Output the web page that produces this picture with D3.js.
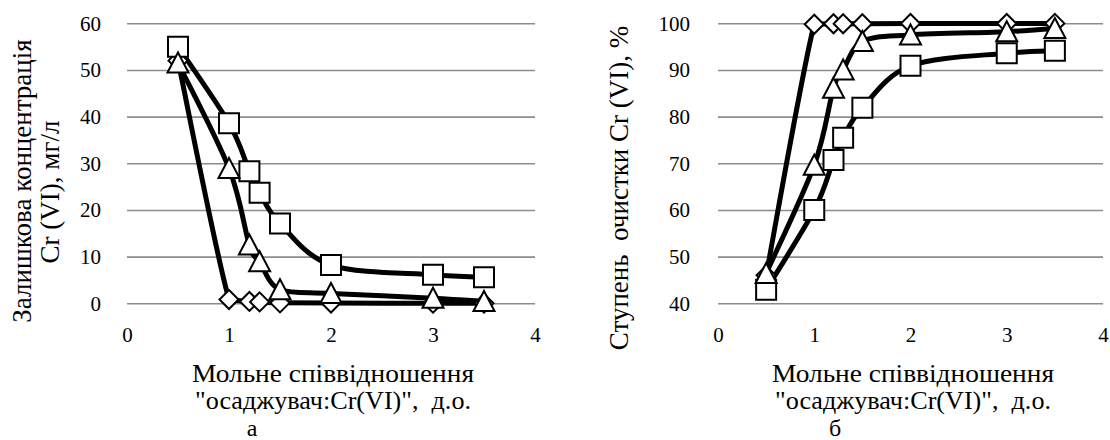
<!DOCTYPE html>
<html>
<head>
<meta charset="utf-8">
<script src="https://cdn.jsdelivr.net/npm/d3@7"></script>
<style>
  html, body { margin: 0; padding: 0; background: #fff; }
  svg { display: block; }
  text { font-family: "Liberation Serif", "Times New Roman", Tinos, serif; fill: #000; }
</style>
</head>
<body>
<svg id="chart" width="1110" height="440"></svg>
<script>
// ---- data ----
const ratio = [0.5, 1.0, 1.2, 1.3, 1.5, 2.0, 3.0, 3.5];

// (а) residual Cr(VI) concentration, mg/l
const concDiamond  = [52, 0.8, 0.4, 0.3, 0.1, 0.05, 0.03, 0.02];
const concTriangle = [51.5, 28.9, 12.5, 8.9, 2.9, 2.1, 1.1, 0.4];
const concSquare   = [55, 38.6, 28.3, 23.7, 17.1, 8.2, 6.1, 5.6];

// (б) purification degree, %
const purDiamond  = [46, 99.8, 99.9, 99.9, 99.9, 99.95, 99.97, 99.98];
const purTriangle = [46.4, 69.6, 86.1, 90.0, 96.1, 97.5, 98.2, 98.9];
const purSquare   = [42.9, 60.0, 70.7, 75.5, 81.9, 90.9, 93.6, 94.1];

const xTicks = [0, 1, 2, 3, 4];
const yTicksA = [0, 10, 20, 30, 40, 50, 60];
const yTicksB = [40, 50, 60, 70, 80, 90, 100];

const xTitle1 = "Мольне співвідношення";
const xTitle2 = "\"осаджувач:Cr(VI)\",\u00a0 д.о.";
const yTitleA1 = "Залишкова концентрація";
const yTitleA2 = "Cr (VI), мг/л";
const yTitleB = "Ступень\u00a0 очистки Cr (VI), %";
const panelA = "а";
const panelB = "б";

// ---- drawing ----
const FONT = "'Liberation Serif', 'Times New Roman', Tinos, serif";
const svg = d3.select("#chart");
svg.append("rect").attr("width", 1110).attr("height", 440).attr("fill", "#fff");

const markerPaths = {
  square: "M-10,-10H10V10H-10Z",
  triangle: "M0,-10.5L10.5,9.5L-10.5,9.5Z",
  diamond: "M0,-9.5L9.5,0L0,9.5L-9.5,0Z"
};

// Excel-like smoothed line: Catmull-Rom Bezier controls, clamped to each segment's box
function smoothPath(pts) {
  const p = d3.path();
  const n = pts.length;
  p.moveTo(pts[0][0], pts[0][1]);
  const clamp = (v, a, b) => Math.max(Math.min(a, b), Math.min(Math.max(a, b), v));
  for (let i = 0; i < n - 1; i++) {
    const P0 = pts[Math.max(i - 1, 0)], P1 = pts[i], P2 = pts[i + 1], P3 = pts[Math.min(i + 2, n - 1)];
    let c1x = P1[0] + (P2[0] - P0[0]) / 6, c1y = P1[1] + (P2[1] - P0[1]) / 6;
    let c2x = P2[0] - (P3[0] - P1[0]) / 6, c2y = P2[1] - (P3[1] - P1[1]) / 6;
    c1x = clamp(c1x, P1[0], P2[0]); c2x = clamp(c2x, P1[0], P2[0]);
    c1y = clamp(c1y, P1[1], P2[1]); c2y = clamp(c2y, P1[1], P2[1]);
    p.bezierCurveTo(c1x, c1y, c2x, c2y, P2[0], P2[1]);
  }
  return p.toString();
}

function panel(cfg) {
  const x = d3.scaleLinear().domain([0, 4]).range([cfg.x0, cfg.x1]);
  const y = d3.scaleLinear().domain(cfg.yDomain).range([303.3, 23.3]);
  const g = svg.append("g");

  // gridlines
  g.append("g")
    .attr("transform", `translate(${cfg.x0},0)`)
    .call(d3.axisLeft(y).tickValues(cfg.yTicks).tickSize(-(cfg.x1 - cfg.x0)).tickFormat(""))
    .call(s => s.select(".domain").remove())
    .call(s => s.selectAll("line").attr("stroke", "#8c8c8c").attr("stroke-width", 1.6));

  // y tick labels
  g.append("g")
    .attr("transform", `translate(${cfg.x0},0)`)
    .call(d3.axisLeft(y).tickValues(cfg.yTicks).tickSize(0).tickPadding(cfg.yPad))
    .call(s => s.attr("font-family", FONT).attr("font-size", 21))
    .call(s => s.select(".domain").remove())
    .call(s => s.selectAll("text").style("font-family", FONT).style("font-size", "21px").attr("fill", "#000"));

  // x tick labels
  g.append("g")
    .attr("transform", `translate(0,303.3)`)
    .call(d3.axisBottom(x).tickValues(xTicks).tickSize(0).tickPadding(24).tickFormat(d3.format("d")))
    .call(s => s.attr("font-family", FONT).attr("font-size", 21))
    .call(s => s.select(".domain").remove())
    .call(s => s.selectAll("text").style("font-family", FONT).style("font-size", "21px").attr("fill", "#000"));

  const series = cfg.series.map(s => ({ shape: s.shape, pts: ratio.map((r, i) => [r, s.values[i]]) }));

  series.forEach(s => {
    g.append("path").datum(s.pts)
      .attr("d", d => smoothPath(d.map(q => [x(q[0]), y(q[1])])))
      .attr("fill", "none")
      .attr("stroke", "#000")
      .attr("stroke-width", 5)
      .attr("stroke-linejoin", "round");
  });
  series.forEach(s => {
    g.append("g").selectAll("path").data(s.pts).join("path")
      .attr("d", markerPaths[s.shape])
      .attr("transform", d => `translate(${x(d[0])},${y(d[1])})`)
      .attr("fill", "#fff")
      .attr("stroke", "#000")
      .attr("stroke-width", 2)
      .attr("stroke-linejoin", "miter");
  });

  // x title
  g.append("text").attr("x", cfg.titleX).attr("y", 382).attr("text-anchor", "middle")
    .attr("textLength", 282).attr("lengthAdjust", "spacingAndGlyphs")
    .style("font-family", FONT).style("font-size", "25px").text(xTitle1);
  g.append("text").attr("x", cfg.titleX).attr("y", 409).attr("text-anchor", "middle")
    .attr("textLength", 276).attr("lengthAdjust", "spacingAndGlyphs")
    .style("font-family", FONT).style("font-size", "25px").text(xTitle2);

  g.append("text").attr("x", cfg.letterX).attr("y", 436).attr("text-anchor", "middle")
    .style("font-family", FONT).style("font-size", "24px").text(cfg.letter);

  // y title
  cfg.yTitles.forEach(tt => {
    g.append("text")
      .attr("transform", `translate(${tt.x},${tt.cy}) rotate(-90)`)
      .attr("text-anchor", "middle")
      .attr("dominant-baseline", "central")
      .style("font-family", FONT).style("font-size", "27px")
      .text(tt.text);
  });
}

panel({
  x0: 127, x1: 535, yDomain: [0, 60], yTicks: yTicksA, yPad: 26,
  series: [
    { shape: "diamond", values: concDiamond },
    { shape: "square", values: concSquare },
    { shape: "triangle", values: concTriangle }
  ],
  titleX: 333, letterX: 252, letter: panelA,
  yTitles: [
    { x: 22, cy: 181, text: yTitleA1 },
    { x: 50, cy: 192, text: yTitleA2 }
  ]
});

panel({
  x0: 718, x1: 1103, yDomain: [40, 100], yTicks: yTicksB, yPad: 28,
  series: [
    { shape: "diamond", values: purDiamond },
    { shape: "square", values: purSquare },
    { shape: "triangle", values: purTriangle }
  ],
  titleX: 913, letterX: 835, letter: panelB,
  yTitles: [
    { x: 619, cy: 188, text: yTitleB }
  ]
});
</script>
</body>
</html>
